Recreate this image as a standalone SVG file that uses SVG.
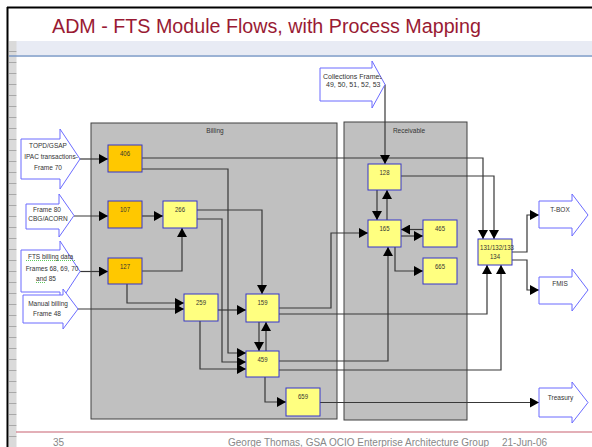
<svg xmlns="http://www.w3.org/2000/svg" width="592" height="447" viewBox="0 0 592 447">
  <style>
    .sans{font-family:"Liberation Sans",Arial,sans-serif}
    .grp{fill:#C0C0C0;stroke:#404040;stroke-width:1}
    .grplbl{font-size:6.5px;fill:#333;text-anchor:middle}
    .nodeO{fill:#FFC800;stroke:#3535CC;stroke-width:1}
    .nodeY{fill:#FFFF80;stroke:#3535CC;stroke-width:1}
    .nl{font-size:8px;fill:#333;text-anchor:middle}
    .io{fill:#FFFFFF;stroke:#6B6BFF;stroke-width:1}
    .il{font-size:6.5px;fill:#333;text-anchor:middle}
    .spell{fill:none;stroke:#33BB33;stroke-width:0.8;stroke-dasharray:1 1}
    #connectors path{fill:none;stroke:#383838;stroke-width:1.2;marker-end:url(#ah)}
    .foot{font-size:10px;fill:#888}
  </style>
  <defs>
    <marker id="ah" markerUnits="userSpaceOnUse" markerWidth="9" markerHeight="10" refX="9" refY="5" orient="auto">
      <path d="M0,0L9,5L0,10z" fill="#000"/>
    </marker>
    <pattern id="rows" width="8" height="11" patternUnits="userSpaceOnUse" y="41">
      <rect width="8" height="11" fill="#DADADA"/>
      <line x1="0" y1="10.5" x2="8" y2="10.5" stroke="#A8A8A8" stroke-width="1"/>
    </pattern>
    <clipPath id="collClip">
      <polygon points="320,68 372,68 372,61 385,84.5 372,108 372,101 320,101"/>
    </clipPath>
  </defs>

  <!-- page frame -->
  <rect x="0" y="0" width="592" height="447" fill="#FFFFFF"/>
  <rect x="9" y="41" width="583" height="14" fill="#E8EBF4"/>
  <rect x="9" y="41" width="7.5" height="406" fill="url(#rows)"/>
  <line x1="9" y1="56" x2="592" y2="56" stroke="#7A98C6" stroke-width="1.5"/>
  <line x1="7" y1="7.5" x2="592" y2="7.5" stroke="#000" stroke-width="2"/>
  <line x1="7.5" y1="7" x2="7.5" y2="447" stroke="#000" stroke-width="2"/>
  <line x1="16" y1="432" x2="592" y2="432" stroke="#C86070" stroke-width="1.2"/>
  <text class="sans" x="52" y="33" font-size="19.7" fill="#991A33">ADM - FTS Module Flows, with Process Mapping</text>
  <text class="sans foot" x="53" y="445.5">35</text>
  <text class="sans foot" x="228" y="445.5">George Thomas, GSA OCIO Enterprise Architecture Group</text>
  <text class="sans foot" x="502" y="445.5">21-Jun-06</text>

  <!-- swimlane groups -->
  <g id="billing">
    <rect class="grp" x="91" y="123" width="246" height="296"/>
    <text class="sans grplbl" x="215" y="132.5">Billing</text>
  </g>
  <g id="receivable">
    <rect class="grp" x="344" y="122" width="123" height="298"/>
    <text class="sans grplbl" x="409" y="132.5">Receivable</text>
  </g>

  <!-- connectors -->
  <g id="connectors">
    <path d="M80,159H108"/>
    <path d="M142,158H483V239"/>
    <path d="M142,169H228V353H246"/>
    <path d="M74,216H108"/>
    <path d="M142,216H163"/>
    <path d="M197,210H262V294"/>
    <path d="M197,219H222V362H246"/>
    <path d="M142,271H182V228"/>
    <path d="M80,271.5H108"/>
    <path d="M127,284V303H184"/>
    <path d="M78,309H184"/>
    <path d="M218,310H246"/>
    <path d="M200,321V369H246"/>
    <path d="M259,322V351"/>
    <path d="M266,351V322"/>
    <path d="M279,308H331V233H368"/>
    <path d="M279,314H487V265"/>
    <path d="M279,361H388V247"/>
    <path d="M279,370H501V265"/>
    <path d="M265,377V402H286"/>
    <path d="M320,402.5H539"/>
    <path d="M385,84.5V164"/>
    <path d="M401,176H494V239"/>
    <path d="M377,190V220"/>
    <path d="M387,220V190"/>
    <path d="M423,229.5H401"/>
    <path d="M401,236H423"/>
    <path d="M395,247V271H423"/>
    <path d="M512,252H527V215H539"/>
    <path d="M512,260H527V290H539"/>
  </g>

  <!-- inbound data sources -->
  <g id="in-topd">
    <polygon class="io" points="21,139 60,139 60,129 80,159 60,189 60,179 21,179"/>
    <text class="sans il" x="48" y="147.5">TOPD/GSAP</text>
    <text class="sans il" x="51" y="158.5">IPAC transactions-</text>
    <text class="sans il" x="48" y="169.5">Frame 70</text>
  </g>
  <g id="in-frame80">
    <polygon class="io" points="26,204 59,204 59,194 74,215.5 59,237 59,229 26,229"/>
    <text class="sans il" x="47" y="211.5">Frame 80</text>
    <text class="sans il" x="48" y="220.5">CBG/ACORN</text>
  </g>
  <g id="in-fts">
    <polygon class="io" points="21,250 60,250 60,241 80,271.5 60,302 60,292 21,292"/>
    <text class="sans il" x="50.5" y="258.5">FTS billing data</text>
    <text class="sans il" x="52" y="270.5">Frames 68, 69, 70</text>
    <text class="sans il" x="46" y="280.5">and 85</text>
    <path class="spell" d="M26,260.5H75M36,282.5H45"/>
  </g>
  <g id="in-manual">
    <polygon class="io" points="23,295 63,295 63,289 78,309 63,329 63,323 23,323"/>
    <text class="sans il" x="48" y="305.5">Manual billing</text>
    <text class="sans il" x="47" y="315.5">Frame 48</text>
  </g>
  <g id="in-collections">
    <polygon class="io" points="320,68 372,68 372,61 385,84.5 372,108 372,101 320,101"/>
    <g clip-path="url(#collClip)">
      <text class="sans" x="323" y="78.5" font-size="7" fill="#333">Collections Frames</text>
      <text class="sans" x="326" y="87" font-size="7" fill="#333">49, 50, 51, 52, 53</text>
    </g>
  </g>

  <!-- billing modules -->
  <g id="n406">
    <rect class="nodeO" x="108" y="145" width="34" height="27"/>
    <text class="sans nl" x="125" y="155.5" textLength="10" lengthAdjust="spacingAndGlyphs">406</text>
  </g>
  <g id="n107">
    <rect class="nodeO" x="108" y="201" width="34" height="27"/>
    <text class="sans nl" x="125" y="211.5" textLength="10" lengthAdjust="spacingAndGlyphs">107</text>
  </g>
  <g id="n127">
    <rect class="nodeO" x="108" y="258" width="34" height="26"/>
    <text class="sans nl" x="125" y="268.5" textLength="10" lengthAdjust="spacingAndGlyphs">127</text>
  </g>
  <g id="n266">
    <rect class="nodeY" x="163" y="201" width="34" height="27"/>
    <text class="sans nl" x="180" y="211.5" textLength="10" lengthAdjust="spacingAndGlyphs">266</text>
  </g>
  <g id="n259">
    <rect class="nodeY" x="184" y="294" width="34" height="27"/>
    <text class="sans nl" x="201" y="304.5" textLength="10" lengthAdjust="spacingAndGlyphs">259</text>
  </g>
  <g id="n159">
    <rect class="nodeY" x="246" y="294" width="33" height="28"/>
    <text class="sans nl" x="262.5" y="304.5" textLength="10" lengthAdjust="spacingAndGlyphs">159</text>
  </g>
  <g id="n459">
    <rect class="nodeY" x="246" y="351" width="33" height="26"/>
    <text class="sans nl" x="262.5" y="361.5" textLength="10" lengthAdjust="spacingAndGlyphs">459</text>
  </g>
  <g id="n659">
    <rect class="nodeY" x="286" y="388" width="34" height="28"/>
    <text class="sans nl" x="303" y="398.5" textLength="10" lengthAdjust="spacingAndGlyphs">659</text>
  </g>

  <!-- receivable modules -->
  <g id="n128">
    <rect class="nodeY" x="368" y="164" width="33" height="26"/>
    <text class="sans nl" x="384.5" y="174.5" textLength="10" lengthAdjust="spacingAndGlyphs">128</text>
  </g>
  <g id="n165">
    <rect class="nodeY" x="368" y="220" width="33" height="27"/>
    <text class="sans nl" x="384.5" y="230.5" textLength="10" lengthAdjust="spacingAndGlyphs">165</text>
  </g>
  <g id="n465">
    <rect class="nodeY" x="423" y="220" width="34" height="27"/>
    <text class="sans nl" x="440" y="230.5" textLength="10" lengthAdjust="spacingAndGlyphs">465</text>
  </g>
  <g id="n665">
    <rect class="nodeY" x="423" y="258" width="34" height="26"/>
    <text class="sans nl" x="440" y="268.5" textLength="10" lengthAdjust="spacingAndGlyphs">665</text>
  </g>
  <g id="n131">
    <rect class="nodeY" x="478" y="239" width="34" height="26"/>
    <text class="sans nl" x="497" y="249.5" textLength="34" lengthAdjust="spacingAndGlyphs">131/132/133</text>
    <text class="sans nl" x="495" y="258.5" textLength="10" lengthAdjust="spacingAndGlyphs">134</text>
  </g>

  <!-- outbound targets -->
  <g id="out-tbox">
    <polygon class="io" points="539,201 572,201 572,194 588,215 572,236 572,228 539,228"/>
    <text class="sans il" x="560" y="211.5">T-BOX</text>
  </g>
  <g id="out-fmis">
    <polygon class="io" points="539,277 572,277 572,269 588,290 572,311 572,304 539,304"/>
    <text class="sans il" x="560" y="285.5">FMIS</text>
  </g>
  <g id="out-treasury">
    <polygon class="io" points="539,388 572,388 572,382 588,402.5 572,423 572,417 539,417"/>
    <text class="sans il" x="560.5" y="399.5">Treasury</text>
  </g>
</svg>
